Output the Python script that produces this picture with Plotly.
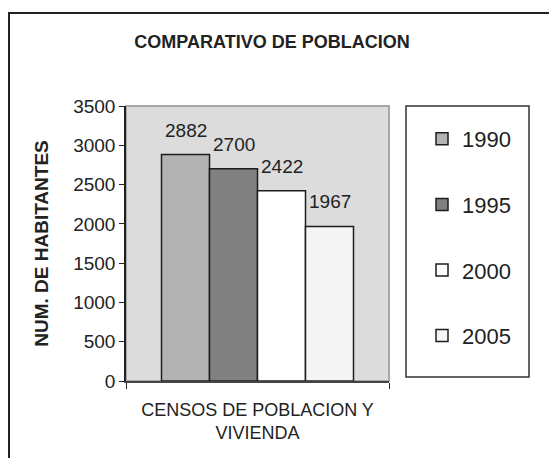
import plotly.graph_objects as go

# ---- data ----
categories = ["CENSOS DE POBLACION Y<br>VIVIENDA"]
years = ["1990", "1995", "2000", "2005"]
values = [2882, 2700, 2422, 1967]
colors = ["#b3b3b3", "#808080", "#ffffff", "#f5f5f5"]
y_ticks = [0, 500, 1000, 1500, 2000, 2500, 3000, 3500]

W, H = 557, 458
OFF = 8  # page body margin offset
# target plot area in window pixels: x 126..389, y 106..381
PL, PR, PT, PB = 126, 389, 106, 381
L, T = PL - OFF, PT - OFF
PW, PH = PR - PL, PB - PT
R, B = W - L - PW, H - T - PH
BARGAP = 0.27
FONT = "Arial, Liberation Sans, sans-serif"

def px_x(p):
    return (p - PL) / PW

def px_y(p):
    return (PB - p) / PH

fig = go.Figure()
for i, (yr, v, c) in enumerate(zip(years, values, colors)):
    fig.add_trace(go.Bar(
        x=categories, y=[v], name=yr, legendgroup=yr,
        marker=dict(color=c, line=dict(color="#1e1e1e", width=1.5)),
        hoverinfo="y",
    ))

# value labels above each bar
n = len(years)
bw = (1 - BARGAP) / n
for i, v in enumerate(values):
    xc = -(1 - BARGAP) / 2 + (i + 0.5) * bw
    fig.add_annotation(x=xc, y=v, xref="x", yref="y", text=str(v),
                       showarrow=False, yanchor="bottom", yshift=12,
                       font=dict(family=FONT, size=19, color="#222"))

shapes = [
    # plot border (top/right gray)
    dict(type="rect", xref="paper", yref="paper", x0=0, y0=0, x1=1, y1=1,
         line=dict(color="#a8a8a8", width=2), layer="below"),
    # legend box
    dict(type="rect", xref="paper", yref="paper", x0=px_x(406), x1=px_x(529),
         y0=px_y(377), y1=px_y(106), line=dict(color="#333", width=1.5)),
    # outer frame (right/bottom outside view)
    dict(type="rect", xref="paper", yref="paper", x0=px_x(9), x1=px_x(W + 20),
         y0=px_y(H + 20), y1=px_y(13), line=dict(color="#222", width=2)),
]

fig.update_layout(
    width=W, height=H,
    margin=dict(l=L, r=R, t=T, b=B),
    paper_bgcolor="white", plot_bgcolor="#dcdcdc",
    barmode="group", bargap=BARGAP, bargroupgap=0,
    font=dict(family=FONT, color="#222"),
    title=dict(text="<b>COMPARATIVO DE POBLACION</b>", x=(272 - OFF) / W, xref="container",
               xanchor="center", y=1 - (42 - OFF) / H, yref="container", yanchor="middle",
               font=dict(family=FONT, size=18, color="#222")),
    showlegend=True,
    legend=dict(x=px_x(422), xanchor="left", y=px_y(118), yanchor="top",
                font=dict(family=FONT, size=22, color="#222"),
                tracegroupgap=34, bgcolor="rgba(0,0,0,0)", traceorder="grouped"),
    shapes=shapes,
)
fig.update_xaxes(
    type="category", showline=True, linecolor="#444", linewidth=2,
    ticks="outside", tickson="boundaries", ticklen=6, tickcolor="#222",
    tickfont=dict(family=FONT, size=18, color="#222"), ticklabelstandoff=11,
    showgrid=False, zeroline=False,
)
fig.update_yaxes(
    range=[0, 3500], tickvals=y_ticks, showline=True, linecolor="#222", linewidth=1.5,
    ticks="outside", ticklen=5, tickcolor="#222",
    tickfont=dict(family=FONT, size=19, color="#222"),
    showgrid=False, zeroline=False,
    title=dict(text="<b>NUM. DE HABITANTES</b>", standoff=20,
               font=dict(family=FONT, size=19, color="#222")),
)

fig.write_html("out.html")
